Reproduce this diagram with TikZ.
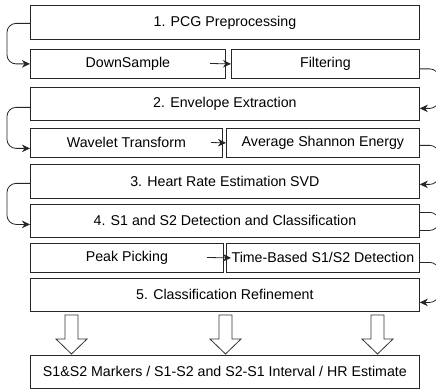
\documentclass[tikz,border=0pt]{standalone}
\usepackage{fontspec}
\setmainfont{Liberation Sans}
\usetikzlibrary{arrows.meta}
\begin{document}
\begin{tikzpicture}[x=1pt,y=-1pt,
  box/.style={draw=black!85, line width=0.8pt, fill=white, inner sep=0pt,
    anchor=north west, font=\fontsize{14.2}{16}\selectfont},
  conn/.style={draw=black!85, line width=0.8pt, rounded corners=9pt,
    -{Stealth[length=8pt,width=7.5pt,inset=2.5pt]}},
  link/.style={draw=black!85, line width=0.8pt, rounded corners=9pt},
  fat/.style={draw=black!80, line width=0.8pt, fill=white, line join=miter}]
\clip (0,0) rectangle (436,390);

% main stages
\node[box, minimum width=389pt, minimum height=34pt] (b1) at (30,5) {1. PCG Preprocessing};
\node[box, minimum width=195pt, minimum height=29pt] (ds) at (30,49) {DownSample};
\node[box, minimum width=188pt, minimum height=29pt] (filt) at (231,49) {Filtering};
\node[box, minimum width=389pt, minimum height=33pt] (b2) at (30,87) {2. Envelope Extraction};
\node[box, minimum width=192pt, minimum height=29pt] (wt) at (30,128) {Wavelet Transform};
\node[box, minimum width=193pt, minimum height=29pt] (ase) at (226,128) {Average Shannon Energy};
\node[box, minimum width=389pt, minimum height=34pt] (b3) at (30,164) {3. Heart Rate Estimation SVD};
\node[box, minimum width=389pt, minimum height=33pt] (b4) at (30,204) {4. S1 and S2 Detection and Classification};
\node[box, minimum width=193pt, minimum height=29pt] (pp) at (30,243) {Peak Picking};
\node[box, minimum width=193pt, minimum height=29pt] (tb) at (226,243) {Time-Based S1/S2 Detection};
\node[box, minimum width=389pt, minimum height=33pt] (b5) at (30,278) {5. Classification Refinement};
\node[box, minimum width=389pt, minimum height=33pt] (out) at (30,355) {S1\&S2 Markers / S1-S2 and S2-S1 Interval / HR Estimate};

% left-hand links from each stage into its first step
\draw[conn] ([yshift=-1pt]b1.west) -- ++(-23,0) |- (ds.west);
\draw[conn] ([yshift=-3.5pt]b2.west) -- ++(-23,0) |- ([yshift=-5.5pt]wt.west);
\draw[conn] ([yshift=-2pt]b3.west) -- ++(-23,0) |- ([yshift=-3.5pt]b4.west);

% steps within a stage
\coordinate (dsx) at (210,63.5);
\coordinate (wtx) at (211,142.5);
\coordinate (ppx) at (207,257.5);
\draw[conn] (dsx) -- (filt.west);
\draw[conn] (wtx) -- (ase.west);
\draw[conn] (ppx) -- ([xshift=5pt]tb.west);

% right-hand links into the next stage
\draw[conn] ([yshift=-5pt]filt.east) -- ++(19,0) |- ([yshift=-4.5pt]b2.east);
\draw[conn] ([yshift=-2.5pt]ase.east) -- ++(19,0) |- ([yshift=-3pt]b3.east);
\draw[link] ([yshift=8.5pt]b4.east) -- ++(19,0) |- ([yshift=-9.5pt]b4.east);
\draw[conn] ([yshift=-4.5pt]tb.east) -- ++(19,0) |- ([yshift=-7.5pt]b5.east);

% block arrows into the results
\foreach \cx in {71.5,225.5,377.5}{
  \path[fat] (\cx-6.5,315) -- (\cx+6.5,315) -- (\cx+6.5,339) -- (\cx+15.5,339)
    -- (\cx,354) -- (\cx-15.5,339) -- (\cx-6.5,339) -- cycle;
}
\end{tikzpicture}
\end{document}
